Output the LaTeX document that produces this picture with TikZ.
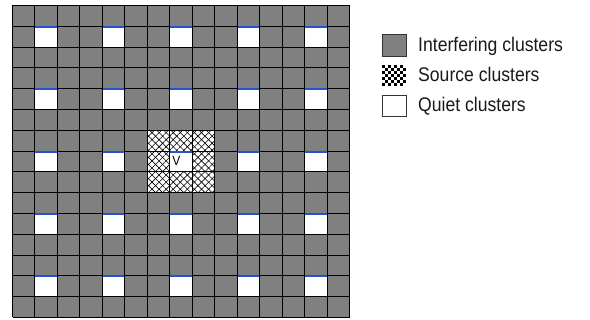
\documentclass[tikz,border=0pt]{standalone}
\usepackage{fontspec}
\setmainfont{Liberation Sans}
\usetikzlibrary{patterns.meta}
\definecolor{interf}{RGB}{128,128,128}
\definecolor{quietblue}{RGB}{40,80,210}
\newcommand{\talltext}[1]{\scalebox{1}[1.12]{#1}}
\begin{document}
\begin{tikzpicture}[x=1pt,y=-1pt,
  gridline/.style={black,line width=1.2pt},
  topline/.style={quietblue,line width=1.3pt},
  legbox/.style={draw=black!80,line width=1pt},
  legtext/.style={anchor=base west,inner sep=0pt,text=black!90,font=\fontsize{17.6}{20}\selectfont},
  hatchA/.style={pattern={Lines[angle=45,distance=5pt,line width=0.6pt]}},
  hatchB/.style={pattern={Lines[angle=-45,distance=5pt,line width=0.6pt]}}]
\useasboundingbox (0,0) rectangle (590,320);
\fill[white] (0,0) rectangle (590,320);
\def\cw{22.47}
\def\ch{20.8}
\newcommand{\gx}[1]{\pgfmathsetmacro\xv{round(12+(#1)*\cw)+0.5}}
\newcommand{\gy}[1]{\pgfmathsetmacro\yv{round(5+(#1)*\ch)+0.5}}
% interfering background
\fill[interf] (12.5,5.5) rectangle (349.5,317.5);
% quiet cells
\foreach \i in {1,4,7,10,13}{
  \foreach \j in {1,4,7,10,13}{
    \gx{\i}\gy{\j}\let\xa\xv\let\ya\yv
    \gx{\i+1}\gy{\j+1}
    \fill[white] (\xa,\ya) rectangle (\xv,\yv);
  }
}
% source cells
\gx{6}\gy{6}\let\xa\xv\let\ya\yv
\gx{9}\gy{9}
\fill[white] (\xa,\ya) rectangle (\xv,\yv);
\fill[hatchA] (\xa,\ya) rectangle (\xv,\yv);
\fill[hatchB] (\xa,\ya) rectangle (\xv,\yv);
\gx{7}\gy{7}\let\xa\xv\let\ya\yv
\gx{8}\gy{8}
\fill[white] (\xa,\ya) rectangle (\xv,\yv);
% grid lines
\foreach \k in {0,...,15}{
  \gx{\k}\draw[gridline] (\xv,5.5) -- (\xv,317.5);
  \gy{\k}\draw[gridline] (12.5,\yv) -- (349.5,\yv);
}
% blue top edges of quiet cells
\foreach \i in {1,4,7,10,13}{
  \foreach \j in {1,4,7,10,13}{
    \gx{\i}\gy{\j}\let\xa\xv\let\ya\yv
    \gx{\i+1}
    \draw[topline] ({\xa+0.6},{\ya+0.6}) -- ({\xv-0.6},{\ya+0.6});
  }
}
\node[font=\fontsize{12}{14}\selectfont,inner sep=0pt] (v) at (176.5,160.5) {\talltext{V}};
% legend
\fill[interf] (382,35) rectangle (406,57);
\draw[legbox] (382,35) rectangle (406,57);
\fill[white] (382,65) rectangle (406,86);
\foreach \a in {0,...,7}{
  \foreach \b in {0,...,6}{
    \pgfmathparse{int(mod(\a+\b,2))}
    \ifnum\pgfmathresult=0
      \fill[black] ({382+\a*3},{65+\b*3}) rectangle ++(3,3);
    \fi
  }
}
\draw[legbox] (382,96) rectangle (406,117);
\node[legtext] (l1) at (418,52) {\talltext{Interfering clusters}};
\node[legtext] (l2) at (418,82) {\talltext{Source clusters}};
\node[legtext] (l3) at (418,112) {\talltext{Quiet clusters}};
\end{tikzpicture}
\end{document}
